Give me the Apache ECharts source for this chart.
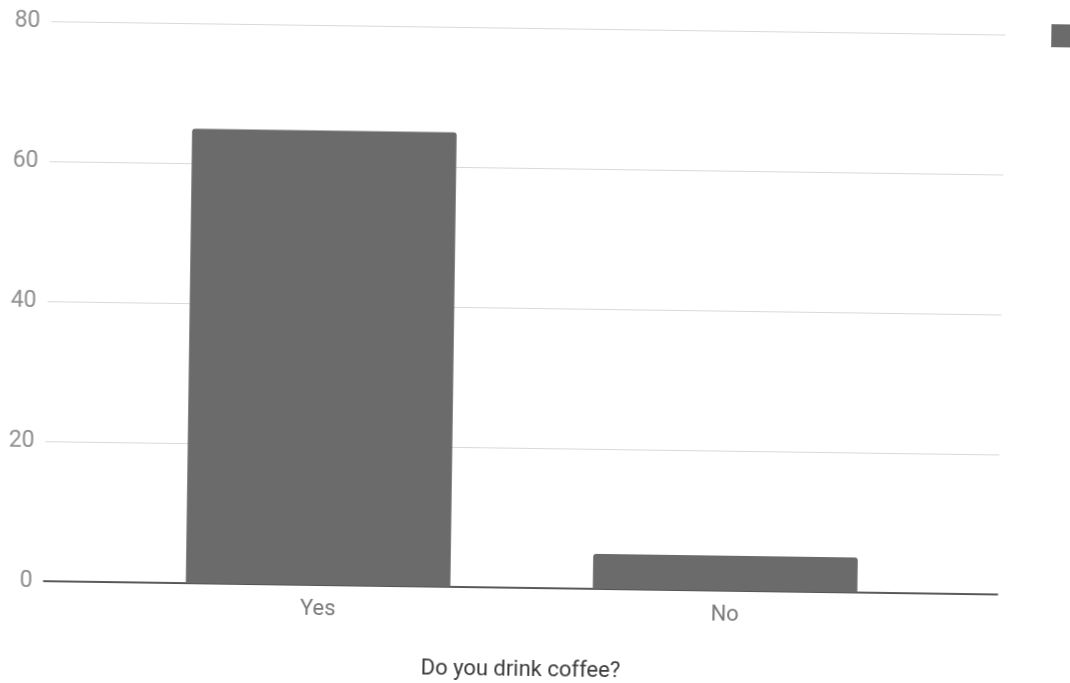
<!DOCTYPE html>
<html>
<head>
<meta charset="utf-8">
<title>Do you drink coffee?</title>
<script src="https://cdn.jsdelivr.net/npm/echarts@6/dist/echarts.min.js"></script>
<style>
  html, body { margin: 0; padding: 0; background: #ffffff; overflow: hidden; }
  #chart {
    width: 1070px;
    height: 683px;
    transform: rotate(0.8deg);
    transform-origin: 535px 341px;
  }
</style>
</head>
<body>
<div id="chart"></div>
<script>
// Survey answers
const categories = ['Yes', 'No'];
const responses = [65, 5];
const seriesName = 'Responses';
const questionTitle = 'Do you drink coffee?';
// Value axis ticks
const yTicks = [0, 20, 40, 60, 80];

const yMin = yTicks[0];
const yMax = yTicks[yTicks.length - 1];
const yStep = yTicks[1] - yTicks[0];

const FONT = 'Roboto, "Noto Sans", sans-serif';

const chart = echarts.init(document.getElementById('chart'), null, { renderer: 'canvas' });

chart.setOption({
  backgroundColor: '#ffffff',
  animation: false,
  legend: {
    left: 1042,
    top: 12,
    itemWidth: 24,
    itemHeight: 23,
    icon: 'rect',
    formatter: () => '',
    selectedMode: false,
    data: [seriesName]
  },
  grid: [
    // full-width plot area: gridlines and baseline
    { left: 47, right: 69, top: 28.5, bottom: 95, outerBoundsMode: 'none' },
    // narrower band area holding the bars
    { left: 118, right: 138, top: 28.5, bottom: 95, outerBoundsMode: 'none' }
  ],
  xAxis: [
    {
      gridIndex: 0,
      type: 'value',
      min: 0,
      max: 1,
      axisLine: { show: true, lineStyle: { color: '#2a2a2a', width: 1.5 } },
      axisTick: { show: false },
      axisLabel: { show: false },
      splitLine: { show: false }
    },
    {
      gridIndex: 1,
      type: 'category',
      data: categories,
      axisLine: { show: false },
      axisTick: { show: false },
      axisLabel: {
        margin: 13,
        fontFamily: FONT,
        fontSize: 22,
        color: '#7a7a7a'
      },
      name: questionTitle,
      nameLocation: 'middle',
      nameGap: 71,
      nameTextStyle: {
        fontFamily: FONT,
        fontSize: 22,
        color: '#3a3a3a'
      }
    }
  ],
  yAxis: [
    {
      gridIndex: 0,
      type: 'value',
      min: yMin,
      max: yMax,
      interval: yStep,
      axisLine: { show: false },
      axisTick: { show: false },
      axisLabel: {
        margin: 11,
        fontFamily: FONT,
        fontSize: 23,
        color: '#8e8e8e'
      },
      splitLine: { show: true, lineStyle: { color: '#d9d9d9', width: 1 } }
    },
    {
      gridIndex: 1,
      type: 'value',
      min: yMin,
      max: yMax,
      interval: yStep,
      show: false,
      splitLine: { show: false }
    }
  ],
  series: [
    {
      name: seriesName,
      type: 'bar',
      xAxisIndex: 1,
      yAxisIndex: 1,
      data: responses,
      barWidth: '65%',
      itemStyle: { color: '#6b6b6b', borderRadius: [3, 3, 0, 0] },
      z: 3
    }
  ]
});
</script>
</body>
</html>
